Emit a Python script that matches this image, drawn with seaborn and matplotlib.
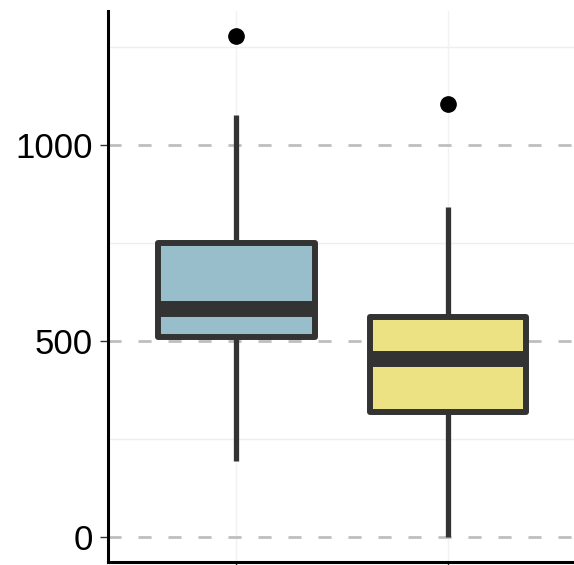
import pandas as pd
import matplotlib
matplotlib.use("Agg")
import matplotlib.pyplot as plt
import seaborn as sns

# values
groups = ["A", "B"]
values_a = [193, 400, 510, 550, 582, 680, 750, 1076, 1278]
values_b = [0, 250, 318, 400, 453, 500, 562, 842, 1105]
fill_colors = ["#98BECB", "#ECE283"]
y_ticks = [0, 500, 1000]
minor_ticks = [250, 750, 1250]

df = pd.DataFrame({
    "group": [groups[0]] * len(values_a) + [groups[1]] * len(values_b),
    "value": values_a + values_b,
})

sns.set_style("white")
plt.rcParams["font.family"] = ["Liberation Sans", "DejaVu Sans"]

fig = plt.figure(figsize=(5.74, 5.65), dpi=100)
ax = fig.add_axes([0.188, 0.0053, 0.812, 0.975])

sns.boxplot(
    data=df, x="group", y="value", hue="group", palette=fill_colors,
    saturation=1, legend=False, width=0.74, showcaps=False,
    linecolor="#333333", linewidth=4.3,
    boxprops=dict(joinstyle="round"),
    medianprops=dict(linewidth=11.5, color="#333333", solid_capstyle="butt"),
    whiskerprops=dict(linewidth=3.8, color="#333333"),
    flierprops=dict(marker="o", markersize=11, markerfacecolor="black",
                    markeredgecolor="black"),
    ax=ax,
)

ax.set_xlim(-0.608, 1.596)
ax.set_ylim(-64, 1342)
ax.set_axisbelow(True)

# grid: dashed majors, faint minors
ax.set_yticks(y_ticks)
ax.set_yticks(minor_ticks, minor=True)
ax.grid(axis="y", which="major", color="#BEBEBE", linestyle=(0, (4.7, 6.1)), linewidth=2)
ax.grid(axis="y", which="minor", color="#EFEFEF", linewidth=1)
ax.grid(axis="x", which="major", color="#F2F2F2", linewidth=1)

ax.tick_params(axis="y", which="major", length=5.5, width=1, color="#333333",
               labelsize=25, pad=5.5, labelcolor="black", left=True)
ax.tick_params(axis="y", which="minor", length=0)
ax.tick_params(axis="x", which="major", length=2.5, width=1, color="#333333",
               bottom=True, labelbottom=False)
ax.set_xlabel("")
ax.set_ylabel("")

for side in ["top", "right"]:
    ax.spines[side].set_visible(False)
for side in ["left", "bottom"]:
    ax.spines[side].set_color("black")
    ax.spines[side].set_linewidth(2.2)

fig.savefig("out.png", dpi=100)
